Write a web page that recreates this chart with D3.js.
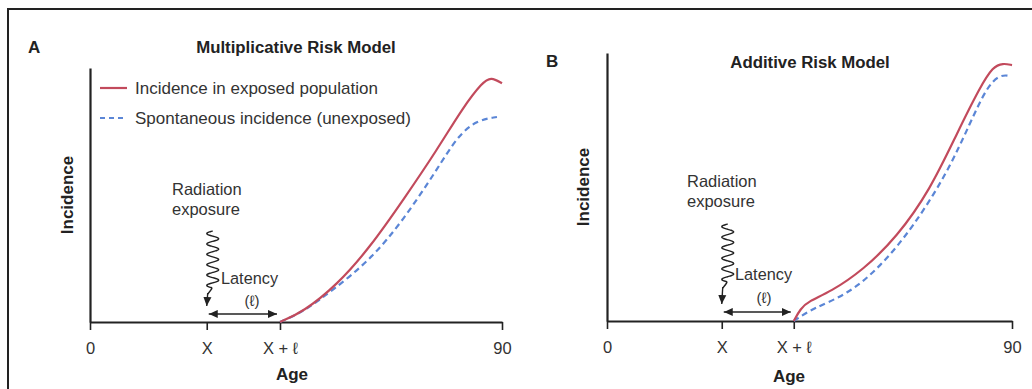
<!DOCTYPE html>
<html>
<head>
<meta charset="utf-8">
<script src="https://cdn.jsdelivr.net/npm/d3@7"></script>
<style>
  body { margin: 0; background: #fff; }
  svg { display: block; font-family: "Liberation Sans", Arial, sans-serif; }
</style>
</head>
<body>
<svg id="chart"></svg>
<script>
const width = 1032;
const height = 389;

// Age axis (schematic): exposure at X, effect starts at X + latency
const tickAges = [0, 25.5, 41.5, 90];
const tickLabels = ["0", "X", "X + \u2113", "90"];
const exposureAge = 25.5;
const latencyEndAge = 41.5;

const seriesNames = ["Incidence in exposed population", "Spontaneous incidence (unexposed)"];

// Panel A - multiplicative risk model (incidence in arbitrary units, 0-100)
const multExposedAge = [41.5, 46.5, 54, 61.2, 68.4, 75.8, 81.5, 85.8, 87.6, 90];
const multExposedInc = [0, 3.9, 14.6, 29.5, 48, 67.7, 84.6, 94.5, 96.5, 94];
const multSpontAge = [41.5, 46.5, 53, 61.2, 68.4, 75.8, 80.2, 84.5, 88.9];
const multSpontInc = [0, 3.9, 12.5, 24.4, 40, 60, 73, 79.5, 80.7];

// Panel B - additive risk model
const addExposedAge = [41.5, 43, 44.8, 49.6, 56.9, 64.4, 71.8, 77.8, 82.9, 85.8, 88, 90];
const addExposedInc = [0, 4.6, 7.4, 10.8, 19, 31.3, 48.9, 70.1, 87.3, 95, 96.2, 95.5];
const addSpontAge = [41.5, 45.8, 53.3, 60.7, 68, 75.6, 80.7, 84.4, 87.3, 89.6];
const addSpontInc = [0, 4.8, 9.7, 20.1, 35, 55.2, 73.9, 87.3, 92, 91.4];

const red = "#c24a5c";
const blue = "#5b86d6";
const ink = "#222";
const textGray = "#333";

const svg = d3.select("#chart").attr("width", width).attr("height", height);

svg.append("defs").append("marker")
    .attr("id", "arrow")
    .attr("viewBox", "0 -5 10 10")
    .attr("refX", 10)
    .attr("refY", 0)
    .attr("markerWidth", 9)
    .attr("markerHeight", 9)
    .attr("markerUnits", "userSpaceOnUse")
    .attr("orient", "auto-start-reverse")
    .append("path")
    .attr("fill", ink)
    .attr("d", "M0,-4.5 L10,0 L0,4.5 Z");

// outer frame (top and left edges only visible)
svg.append("path")
    .attr("d", `M8,${height} L8,9 L${width},9`)
    .attr("fill", "none")
    .attr("stroke", ink)
    .attr("stroke-width", 2);

const panels = [
    {
        letter: "A", title: "Multiplicative Risk Model",
        left: 90, right: 502, bottom: 322, top: 68,
        letterPos: [28, 53], titlePos: [296, 53], agePos: [292, 380], incPos: [67, 195],
        radPos: [172, 195], latencyPos: [221, 284], ellPos: [252, 306], arrowY: 314,
        wave: [231, 288], arrowTip: 306,
        exposed: d3.zip(multExposedAge, multExposedInc),
        spont: d3.zip(multSpontAge, multSpontInc),
        legend: true
    },
    {
        letter: "B", title: "Additive Risk Model",
        left: 607, right: 1012, bottom: 321, top: 53,
        letterPos: [546, 67], titlePos: [810, 68], agePos: [789, 382], incPos: [583, 187],
        radPos: [687, 187], latencyPos: [735, 280], ellPos: [764, 303], arrowY: 312,
        wave: [224, 282], arrowTip: 304,
        exposed: d3.zip(addExposedAge, addExposedInc),
        spont: d3.zip(addSpontAge, addSpontInc),
        legend: false
    }
];

function drawPanel(p) {
    const x = d3.scaleLinear().domain([0, 90]).range([p.left, p.right]);
    const y = d3.scaleLinear().domain([0, 100]).range([p.bottom, p.top]);
    const g = svg.append("g");

    g.append("text")
        .attr("x", p.letterPos[0]).attr("y", p.letterPos[1])
        .attr("font-size", 17).attr("font-weight", "bold").attr("fill", ink)
        .text(p.letter);

    g.append("text")
        .attr("x", p.titlePos[0]).attr("y", p.titlePos[1])
        .attr("text-anchor", "middle")
        .attr("font-size", 16.8).attr("font-weight", "bold").attr("fill", ink)
        .text(p.title);

    // axes
    const xAxis = g.append("g")
        .attr("transform", `translate(0,${p.bottom})`)
        .call(d3.axisBottom(x)
            .tickValues(tickAges)
            .tickFormat((d, i) => tickLabels[i])
            .tickSize(8)
            .tickSizeOuter(0)
            .tickPadding(12));
    xAxis.select(".domain").attr("stroke", ink).attr("stroke-width", 2.2);
    xAxis.selectAll(".tick line").attr("stroke", ink).attr("stroke-width", 1.6);
    xAxis.selectAll(".tick text")
        .attr("font-size", 16.5).attr("fill", textGray)
        .attr("font-family", "Liberation Sans, Arial, sans-serif");

    const yAxis = g.append("g")
        .attr("transform", `translate(${p.left},0)`)
        .call(d3.axisLeft(y).tickValues([]).tickSizeOuter(0));
    yAxis.select(".domain").attr("stroke", ink).attr("stroke-width", 2.2);

    g.append("text")
        .attr("x", p.agePos[0]).attr("y", p.agePos[1])
        .attr("text-anchor", "middle")
        .attr("font-size", 17).attr("font-weight", "bold").attr("fill", ink)
        .text("Age");

    g.append("text")
        .attr("transform", `translate(${p.incPos[0] + 6},${p.incPos[1]}) rotate(-90)`)
        .attr("text-anchor", "middle")
        .attr("font-size", 17).attr("font-weight", "bold").attr("fill", ink)
        .text("Incidence");

    // curves
    const line = d3.line()
        .x(d => x(d[0]))
        .y(d => y(d[1]))
        .curve(d3.curveBasis);

    g.append("path")
        .datum(p.spont)
        .attr("d", line)
        .attr("fill", "none")
        .attr("stroke", blue)
        .attr("stroke-width", 2.2)
        .attr("stroke-dasharray", "6,4");

    g.append("path")
        .datum(p.exposed)
        .attr("d", line)
        .attr("fill", "none")
        .attr("stroke", red)
        .attr("stroke-width", 2.2);

    // radiation exposure annotation
    const rad = g.append("text")
        .attr("x", p.radPos[0]).attr("y", p.radPos[1])
        .attr("font-size", 16.5).attr("fill", textGray);
    rad.append("tspan").attr("x", p.radPos[0]).text("Radiation");
    rad.append("tspan").attr("x", p.radPos[0]).attr("dy", 20).text("exposure");

    // squiggle arrow
    const xc = x(exposureAge) + 6;
    const waves = 5.5;
    const wavePts = d3.range(0, 121).map(i => {
        const t = i / 120;
        return [xc - 6 * Math.sin(t * waves * 2 * Math.PI), p.wave[0] + t * (p.wave[1] - p.wave[0])];
    });
    wavePts.push([x(exposureAge) + 1, p.wave[1] + 6]);
    g.append("path")
        .attr("d", d3.line().curve(d3.curveBasis)(wavePts))
        .attr("fill", "none")
        .attr("stroke", ink)
        .attr("stroke-width", 1.4);
    g.append("line")
        .attr("x1", x(exposureAge) + 1).attr("y1", p.wave[1] + 5)
        .attr("x2", x(exposureAge)).attr("y2", p.arrowTip)
        .attr("stroke", ink).attr("stroke-width", 1.4)
        .attr("marker-end", "url(#arrow)");

    // latency double arrow
    g.append("line")
        .attr("x1", x(exposureAge) + 2).attr("y1", p.arrowY)
        .attr("x2", x(latencyEndAge) - 3).attr("y2", p.arrowY)
        .attr("stroke", ink).attr("stroke-width", 1.6)
        .attr("marker-start", "url(#arrow)")
        .attr("marker-end", "url(#arrow)");

    g.append("text")
        .attr("x", p.latencyPos[0]).attr("y", p.latencyPos[1])
        .attr("font-size", 16.3).attr("fill", textGray)
        .text("Latency");

    g.append("text")
        .attr("x", p.ellPos[0]).attr("y", p.ellPos[1])
        .attr("text-anchor", "middle")
        .attr("font-size", 15).attr("fill", textGray)
        .text("(\u2113)");

    if (p.legend) {
        const legend = g.append("g");
        seriesNames.forEach((name, i) => {
            const ly = 88 + i * 30;
            legend.append("line")
                .attr("x1", 100).attr("x2", 127)
                .attr("y1", ly).attr("y2", ly)
                .attr("stroke", i === 0 ? red : blue)
                .attr("stroke-width", 2.2)
                .attr("stroke-dasharray", i === 0 ? null : "5,4");
            legend.append("text")
                .attr("x", 135).attr("y", ly + 6)
                .attr("font-size", 17).attr("fill", textGray)
                .text(name);
        });
    }
}

panels.forEach(drawPanel);
</script>
</body>
</html>
